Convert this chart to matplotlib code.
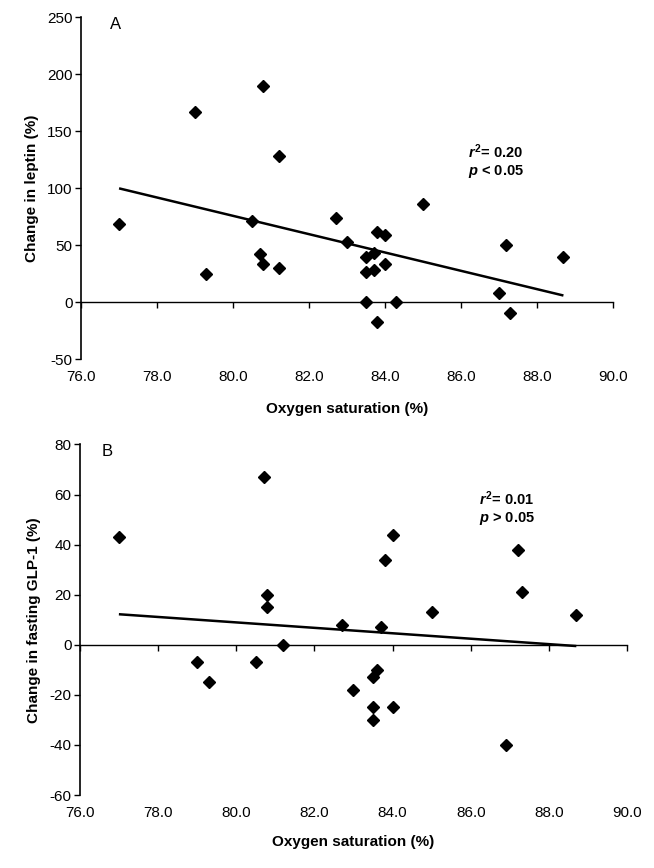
"""
Change in leptin / fasting GLP-1 vs oxygen saturation
"""

import matplotlib
matplotlib.use("Agg")
import matplotlib.pyplot as plt

plt.rcParams['font.family'] = ['Liberation Sans', 'DejaVu Sans']
plt.rcParams['axes.unicode_minus'] = False
plt.rcParams['mathtext.fontset'] = 'custom'
plt.rcParams['mathtext.it'] = 'Liberation Sans:italic:bold'
plt.rcParams['mathtext.rm'] = 'Liberation Sans:bold'

# panel A data
sat_a = [77.0, 79.0, 79.3, 80.5, 80.7, 80.8, 80.8, 81.2, 81.2, 82.7, 83.0, 83.5, 83.7,
         83.5, 83.7, 83.8, 84.0, 84.0, 85.0, 87.0, 87.2, 88.7, 83.5, 83.8, 84.3, 87.3]
leptin = [69, 167, 25, 71, 42, 34, 190, 30, 128, 74, 53, 40, 43,
          27, 28, 62, 59, 34, 86, 8, 50, 40, 0, -17, 0, -9]
fit_x_a = [77.0, 88.7]
fit_y_a = [100, 6]

# panel B data
sat_b = [77.0, 80.7, 80.8, 80.8, 81.2, 79.0, 80.5, 82.7, 83.7, 83.8, 84.0, 85.0,
         87.2, 87.3, 88.7, 79.3, 83.0, 83.5, 83.6, 83.5, 84.0, 83.5, 86.9]
glp1 = [43, 67, 20, 15, 0, -7, -7, 8, 7, 34, 44, 13,
        38, 21, 12, -15, -18, -13, -10, -25, -25, -30, -40]
fit_x_b = [77.0, 88.7]
fit_y_b = [12.2, -0.5]

x_ticks = [76.0, 78.0, 80.0, 82.0, 84.0, 86.0, 88.0, 90.0]
y_ticks_a = [-50, 0, 50, 100, 150, 200, 250]
y_ticks_b = [-60, -40, -20, 0, 20, 40, 60, 80]


def panel(ax, x, y, fx, fy, yticks, ylabel, letter, letter_x, stats, stat_y, xlab_y):
    ax.plot(x, y, 'D', color='black', markersize=6.5, linestyle='none')
    ax.plot(fx, fy, color='black', linewidth=1.8, solid_capstyle='butt')
    ax.set_xlim(x_ticks[0], x_ticks[-1])
    ax.set_ylim(yticks[0], yticks[-1])
    ax.set_yticks(yticks)
    ax.set_xticks(x_ticks)
    for s in ['top', 'right']:
        ax.spines[s].set_visible(False)
    ax.spines['bottom'].set_position(('data', 0))
    ax.spines['left'].set_linewidth(1.2)
    ax.spines['bottom'].set_linewidth(1.0)
    ax.tick_params(axis='y', direction='out', length=4, width=1, labelsize=11, pad=2)
    ax.tick_params(axis='x', direction='out', length=4, width=1, labelbottom=False)
    for t in x_ticks:
        ax.annotate('%.1f' % t, xy=(t, 0), xycoords=('data', 'axes fraction'),
                    xytext=(0, -8), textcoords='offset points',
                    ha='center', va='top', fontsize=11)
    ax.set_xlabel('Oxygen saturation (%)', fontsize=11, fontweight='bold')
    ax.xaxis.set_label_coords(0.5, xlab_y)
    ax.set_ylabel(ylabel, fontsize=11, fontweight='bold', labelpad=6)
    ax.text(letter_x, yticks[-1], letter, fontsize=12, ha='left', va='top')
    ax.text(86.2, stat_y[0], stats[0], fontsize=10.5, fontweight='bold', ha='left', va='center')
    ax.text(86.2, stat_y[1], stats[1], fontsize=10.5, fontweight='bold', ha='left', va='center')


fig = plt.figure(figsize=(6.54, 8.68), dpi=100)
ax1 = fig.add_axes([0.124, 0.586, 0.813, 0.394])
ax2 = fig.add_axes([0.122, 0.084, 0.837, 0.404])

panel(ax1, sat_a, leptin, fit_x_a, fit_y_a, y_ticks_a, 'Change in leptin (%)', 'A', 76.75,
      [r'$r^2$= 0.20', r'$p$ < 0.05'], [132, 115], -0.125)
panel(ax2, sat_b, glp1, fit_x_b, fit_y_b, y_ticks_b, 'Change in fasting GLP-1 (%)', 'B', 76.55,
      [r'$r^2$= 0.01', r'$p$ > 0.05'], [58.5, 50.3], -0.115)

fig.savefig('out.png', dpi=100)
